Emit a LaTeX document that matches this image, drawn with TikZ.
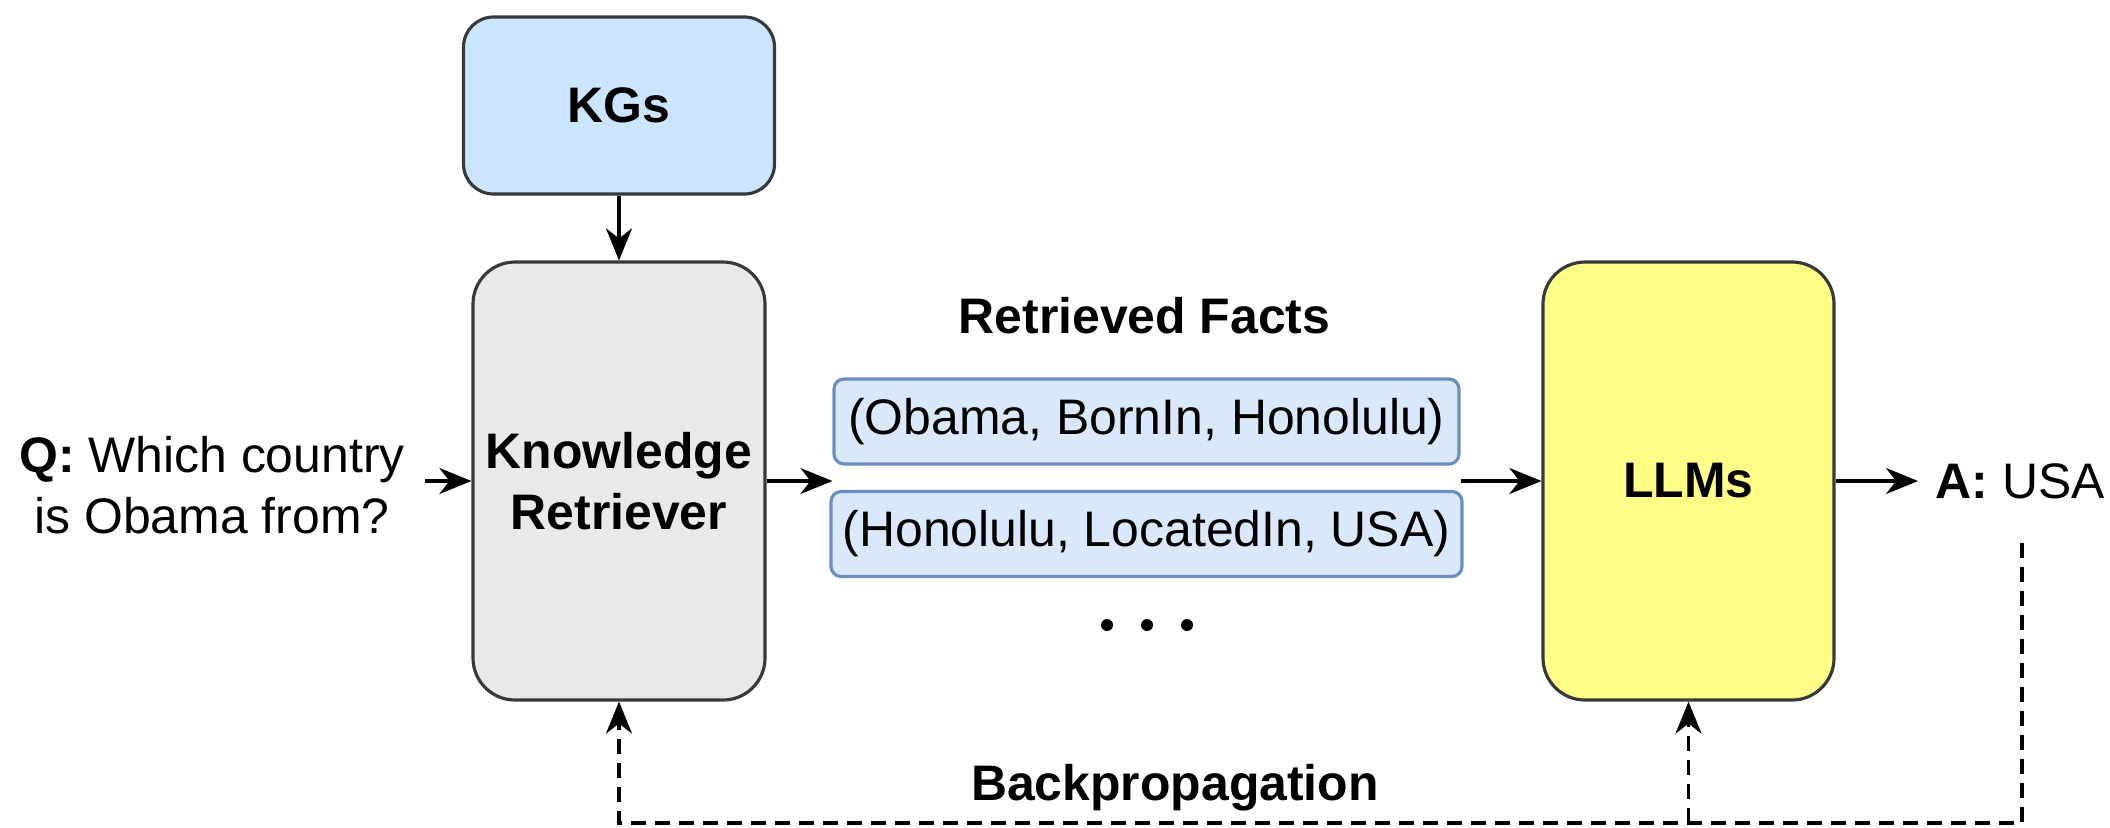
\documentclass[tikz,border=0pt]{standalone}
\usepackage{fontspec}
\setmainfont{Liberation Sans}
\usepackage{tikz}
\usetikzlibrary{arrows.meta}
\definecolor{kgfill}{HTML}{CCE5FF}
\definecolor{krfill}{HTML}{E9E9E9}
\definecolor{llmfill}{HTML}{FFFF88}
\definecolor{factfill}{HTML}{DAE8FC}
\definecolor{factline}{HTML}{6C8EBF}
\definecolor{boxline}{HTML}{36393D}
\tikzset{
  blk/.style={draw=boxline,line width=0.9pt,align=center,font=\fontsize{14.2}{17.5}\selectfont\bfseries},
  fact/.style={draw=factline,fill=factfill,line width=0.9pt,rounded corners=0.1cm,minimum width=6.25cm,minimum height=0.85cm,font=\fontsize{14.2}{17}\selectfont},
  txt/.style={font=\fontsize{14.2}{17.5}\selectfont,inner sep=0pt},
  arr/.style={line width=0.9pt,-{Stealth[length=0.32cm,width=0.26cm,inset=0.1cm]}},
  back/.style={arr,dash pattern=on 0.15cm off 0.09cm}
}
\newcommand{\factnode}[4]{\node[fact] (#1) at ( #2 , #3 ) {#4};}
\begin{document}
\begin{tikzpicture}
        \useasboundingbox (0,0) rectangle (21.1,8.27);
        %nodes
        \node[blk,fill=kgfill,rounded corners=0.3cm,minimum width=3.11cm,minimum height=1.77cm] (kg) at (6.19,7.215) {KGs};
        \node[blk,fill=krfill,rounded corners=0.42cm,minimum width=2.92cm,minimum height=4.38cm] (kr) at (6.19,3.46) {Knowledge\\Retriever};
        \node[blk,fill=llmfill,rounded corners=0.42cm,minimum width=2.91cm,minimum height=4.38cm] (llm) at (16.885,3.46) {LLMs};
        \node[txt,align=center] (q) at (2.12,3.42) {\textbf{Q:} Which country\\is Obama from?};
        \node[txt,anchor=west] (ans) at (19.35,3.46) {\textbf{A:} USA};
        \node[txt,font=\fontsize{14.2}{17}\selectfont\bfseries] (rf) at (11.445,5.11) {Retrieved Facts};
        \factnode{f1}{11.465}{4.055}{(Obama, BornIn, Honolulu)}
        \factnode{f2}{11.465}{2.93}{(Honolulu, LocatedIn, USA)}
        \foreach \x in {11.07,11.47,11.87}
            \fill (\x,2.02) circle (0.06);
        \node[txt,font=\fontsize{14.2}{17}\selectfont\bfseries] (bp) at (11.75,0.39) {Backpropagation};
        \coordinate (bend) at (20.22,0.04);

        %edges
        \draw[arr] (kg) -- (kr);
        \draw[arr] ([xshift=0.2cm]q.east |- kr.west) -- (kr.west);
        \draw[arr] (kr.east) -- (kr.east -| f1.west);
        \draw[arr] (f1.east |- llm.west) -- (llm.west);
        \draw[arr] (llm.east) -- ([xshift=-0.17cm]ans.west);
        \draw[back] (bend |- 0,2.84) -- (bend) -- (bend -| kr.south) -- (kr.south);
        \draw[back] (bend -| llm.south) -- (llm.south);
\end{tikzpicture}
\end{document}
